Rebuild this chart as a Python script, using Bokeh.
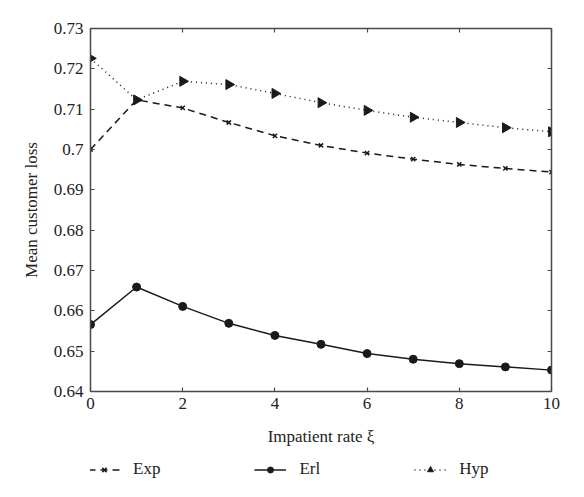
from bokeh.plotting import figure
from bokeh.models import LinearAxis, FixedTicker, Legend, LegendItem, Range1d, CustomJSTickFormatter
from bokeh.layouts import column
from bokeh.embed import file_html
from bokeh.resources import INLINE

x = [0, 1, 2, 3, 4, 5, 6, 7, 8, 9, 10]
exp_loss = [0.7000, 0.7123, 0.7103, 0.7067, 0.7034, 0.7010, 0.6991, 0.6976, 0.6963, 0.6953, 0.6944]
erl_loss = [0.6566, 0.6659, 0.6611, 0.6569, 0.6539, 0.6517, 0.6494, 0.6480, 0.6469, 0.6461, 0.6453]
hyp_loss = [0.7226, 0.7123, 0.7169, 0.7161, 0.7139, 0.7116, 0.7097, 0.7080, 0.7067, 0.7054, 0.7044]
x_ticks = [0, 2, 4, 6, 8, 10]
y_ticks = [0.64, 0.65, 0.66, 0.67, 0.68, 0.69, 0.70, 0.71, 0.72, 0.73]
y_labels = ["0.64", "0.65", "0.66", "0.67", "0.68", "0.69", "0.7", "0.71", "0.72", "0.73"]
series_names = ["Exp", "Erl", "Hyp"]

FONT = "Liberation Serif"
INK = "#1a1a1a"
AX = "#4a4a4a"
FS = "17px"

p = figure(width=568, height=455, output_backend="svg", toolbar_location=None,
           x_range=Range1d(0, 10), y_range=Range1d(0.64, 0.73),
           min_border_left=90, min_border_right=17, min_border_top=28, min_border_bottom=64)
p.grid.visible = False
p.outline_line_color = None
p.background_fill_color = "white"

def style_axis(ax):
    ax.axis_line_color = AX
    ax.axis_line_width = 1.5
    ax.major_tick_line_color = AX
    ax.major_tick_line_width = 1.2
    ax.major_tick_in = 4
    ax.major_tick_out = 0
    ax.minor_tick_line_color = None
    ax.major_label_text_font = FONT
    ax.major_label_text_font_size = FS
    ax.major_label_text_color = "#222222"
    ax.axis_label_text_font = FONT
    ax.axis_label_text_font_size = FS
    ax.axis_label_text_font_style = "normal"
    ax.axis_label_text_color = "#222222"

p.xaxis.ticker = FixedTicker(ticks=x_ticks)
p.yaxis.ticker = FixedTicker(ticks=y_ticks)
p.yaxis.major_label_overrides = {t: l for t, l in zip(y_ticks, y_labels)}
p.xaxis.axis_label = "Impatient rate ξ"
p.yaxis.axis_label = "Mean customer loss"
style_axis(p.xaxis[0])
style_axis(p.yaxis[0])
p.xaxis.major_label_standoff = 6
p.yaxis.major_label_standoff = 7
p.xaxis.axis_label_standoff = 15
p.yaxis.axis_label_standoff = 10

top = LinearAxis(ticker=FixedTicker(ticks=x_ticks), formatter=CustomJSTickFormatter(code="return ''"))
style_axis(top)
top.major_label_standoff = 0
p.add_layout(top, "above")
right = LinearAxis(ticker=FixedTicker(ticks=y_ticks), formatter=CustomJSTickFormatter(code="return ''"))
style_axis(right)
right.major_label_standoff = 0
p.add_layout(right, "right")

def draw_series(fig):
    r = []
    r.append(fig.line(x, exp_loss, line_color=INK, line_width=1.5, line_dash="7 5"))
    r.append(fig.scatter(x, exp_loss, marker="x", size=6, line_color=INK, line_width=1.5))
    r.append(fig.line(x, erl_loss, line_color=INK, line_width=1.5))
    r.append(fig.scatter(x, erl_loss, marker="circle", size=8, fill_color=INK, line_color=INK))
    r.append(fig.line(x, hyp_loss, line_color=INK, line_width=1.5, line_dash="1 4"))
    r.append(fig.scatter(x, hyp_loss, marker="triangle", angle=-1.5708, size=10, fill_color=INK, line_color=INK))
    return r

draw_series(p)

# legend strip below the chart (its own renderers lie outside its visible range)
lg = figure(width=568, height=26, output_backend="svg", toolbar_location=None,
            x_range=Range1d(0, 10), y_range=Range1d(0, 0.1),
            x_axis_type=None, y_axis_type=None,
            min_border_left=0, min_border_right=0, min_border_top=0, min_border_bottom=0)
lg.grid.visible = False
lg.outline_line_color = None
rs = draw_series(lg)

legend = Legend(items=[
    LegendItem(label=series_names[0], renderers=[rs[0], rs[1]]),
    LegendItem(label=series_names[1], renderers=[rs[2], rs[3]]),
    LegendItem(label=series_names[2], renderers=[rs[4], rs[5]]),
], orientation="horizontal", location=(-2, 2))
legend.label_text_font = FONT
legend.label_text_font_size = FS
legend.label_text_color = "#222222"
legend.border_line_color = None
legend.background_fill_alpha = 0
legend.glyph_width = 32
legend.glyph_height = 15
legend.label_height = 15
legend.label_standoff = 13
legend.spacing = 94
legend.padding = 0
legend.margin = 0
lg.add_layout(legend, "center")

layout = column(p, lg, spacing=0)
open("out.html", "w").write(file_html(layout, INLINE))
